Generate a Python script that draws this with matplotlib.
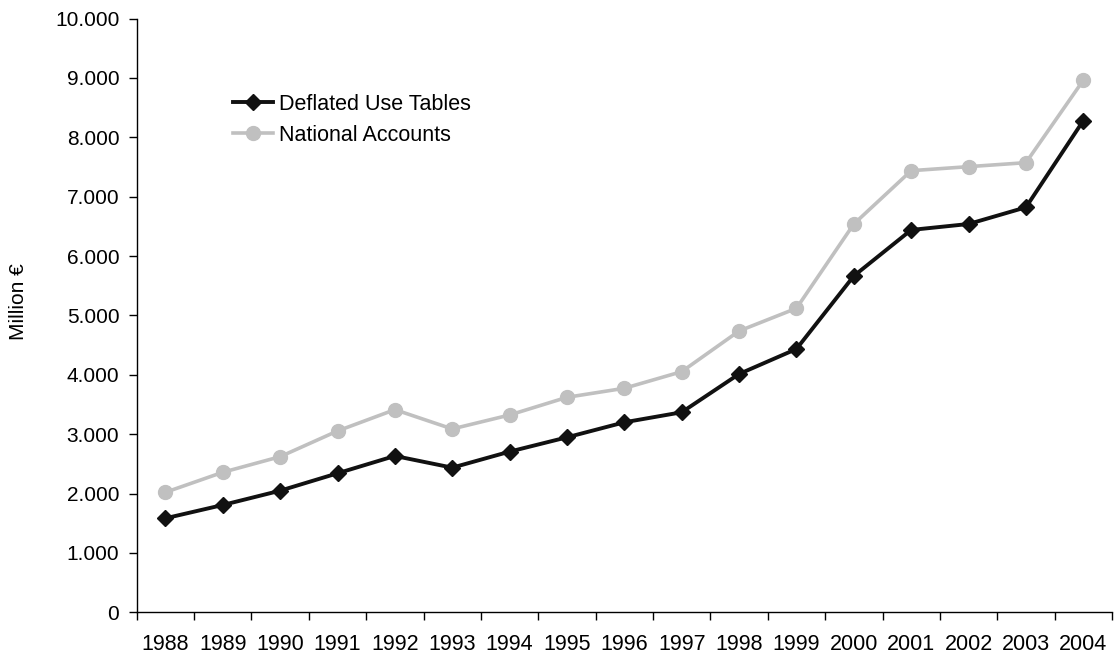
import matplotlib
matplotlib.use("Agg")
import matplotlib.pyplot as plt
from matplotlib.ticker import FuncFormatter, FixedLocator

years = [str(y) for y in range(1988, 2005)]
deflated_use_tables = [1583, 1807, 2048, 2341, 2633, 2436, 2706, 2947, 3200,
                       3369, 4014, 4435, 5665, 6440, 6540, 6821, 8280]
national_accounts = [2021, 2358, 2621, 3054, 3413, 3088, 3323, 3621, 3773,
                     4053, 4738, 5120, 6540, 7438, 7506, 7573, 8961]
y_ticks = list(range(0, 10001, 1000))

plt.rcParams["font.family"] = ["Liberation Sans", "DejaVu Sans"]
FS = 15
FS_X = 15.5

fig = plt.figure(figsize=(11.17, 6.59), dpi=100)
ax = fig.add_axes([0.1224, 0.0709, 0.8731, 0.9009])

x = [i + 0.5 for i in range(len(years))]
ax.plot(x, national_accounts, color="#c0c0c0", lw=2.6, marker="o",
        markersize=10, label="National Accounts", zorder=2)
ax.plot(x, deflated_use_tables, color="#111111", lw=2.8, marker="D",
        markersize=8.5, label="Deflated Use Tables", zorder=3)

ax.set_xlim(0, len(years))
ax.set_ylim(0, 10000)

# category boundaries carry tick marks, category centres carry the labels
ax.xaxis.set_major_locator(FixedLocator(range(len(years) + 1)))
ax.xaxis.set_minor_locator(FixedLocator(x))
ax.set_xticklabels([], minor=False)
ax.set_xticklabels(years, minor=True)
ax.tick_params(axis="x", which="major", length=6, width=1, direction="out")
ax.tick_params(axis="x", which="minor", length=0, pad=15.5, labelsize=FS_X)

ax.set_yticks(y_ticks)
ax.yaxis.set_major_formatter(FuncFormatter(lambda v, p: f"{int(v):,}".replace(",", ".")))
ax.tick_params(axis="y", length=6, width=1, direction="out", pad=6.5, labelsize=FS)

for side in ("top", "right"):
    ax.spines[side].set_visible(False)
for side in ("left", "bottom"):
    ax.spines[side].set_linewidth(1)

ax.set_ylabel("Million €", fontsize=FS)
ax.yaxis.set_label_coords(-0.111, 0.5227)

handles, labels = ax.get_legend_handles_labels()
ax.legend(handles[::-1], labels[::-1], loc="upper left",
          bbox_to_anchor=(233 / 1117, 1 - 94 / 659), bbox_transform=fig.transFigure,
          frameon=False, fontsize=FS_X, handlelength=1.85, handletextpad=0.27,
          labelspacing=0.45, borderpad=0, borderaxespad=0)

fig.savefig("out.png", dpi=100)
